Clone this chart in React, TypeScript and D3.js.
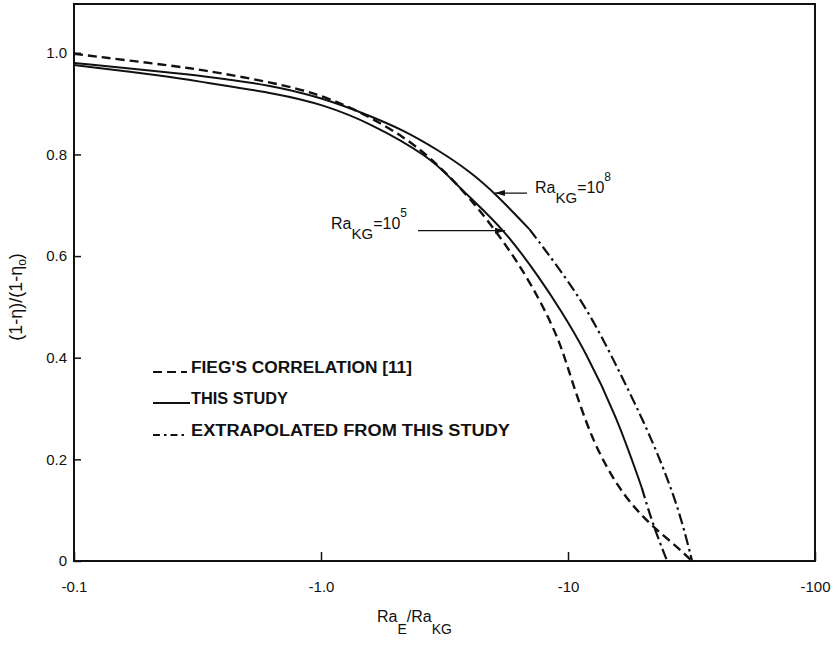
import React, { useEffect, useRef } from 'react';
import * as d3 from 'd3';

// |Ra_E / Ra_KG| values (axis shows them as negatives) and normalised efficiency
const fiegX = [0.1, 0.245, 0.324, 0.62, 1.02, 1.58, 2.15, 2.76, 4.0, 5.98, 7.7, 9.3, 10.2, 12.6, 16.2, 19.0, 22.1, 26.6, 31.8];
const fiegY = [0.998, 0.975, 0.967, 0.943, 0.917, 0.874, 0.835, 0.795, 0.717, 0.605, 0.514, 0.43, 0.365, 0.232, 0.14, 0.1, 0.067, 0.035, 0];

const ra5X = [0.1, 0.245, 0.324, 0.68, 1.02, 1.58, 2.76, 3.42, 4.0, 5.56, 7.7, 9.3, 11.7, 15.8, 19.9];
const ra5Y = [0.976, 0.953, 0.943, 0.919, 0.898, 0.862, 0.795, 0.748, 0.716, 0.65, 0.556, 0.495, 0.415, 0.283, 0.144];
const ra5ExtX = [19.9, 22.1, 25.2];
const ra5ExtY = [0.144, 0.07, 0];

const ra8X = [0.1, 0.245, 0.324, 0.62, 1.02, 1.58, 2.15, 2.95, 4.0, 5.06, 7.0];
const ra8Y = [0.98, 0.961, 0.955, 0.937, 0.911, 0.876, 0.848, 0.81, 0.767, 0.724, 0.652];
const ra8ExtX = [7.0, 11.5, 15.8, 20.1, 24.3, 28.4, 31.8];
const ra8ExtY = [0.652, 0.514, 0.382, 0.278, 0.185, 0.094, 0];

const xTicks = [0.1, 1, 10, 100];
const xTickLabels = ['-0.1', '-1.0', '-10', '-100'];
const yTicks = [0, 0.2, 0.4, 0.6, 0.8, 1.0];
const yTickLabels = ['0', '0.2', '0.4', '0.6', '0.8', '1.0'];

const legendLabels = ["FIEG'S CORRELATION [11]", 'THIS STUDY', 'EXTRAPOLATED FROM THIS STUDY'];

const DASH = '9,5';
const DASHDOT = '11,4,2.5,4';

const App = () => {
  const ref = useRef<SVGSVGElement | null>(null);

  useEffect(() => {
    const svg = d3.select(ref.current);
    svg.selectAll('*').remove();

    const left = 74;
    const right = 815;
    const top = 4;
    const bottom = 561;
    const font = '"Liberation Sans", Arial, sans-serif';

    const x = d3.scaleLog().domain([0.1, 100]).range([left, right]);
    const y = d3.scaleLinear().domain([0, 1.096]).range([bottom, top]);

    const line = d3
      .line<[number, number]>()
      .x((d) => x(d[0]))
      .y((d) => y(d[1]))
      .curve(d3.curveBasis);

    const zip = (xs: number[], ys: number[]) => xs.map((v, i) => [v, ys[i]] as [number, number]);

    // frame
    svg
      .append('rect')
      .attr('x', left)
      .attr('y', top)
      .attr('width', right - left)
      .attr('height', bottom - top)
      .attr('fill', 'none')
      .attr('stroke', '#111')
      .attr('stroke-width', 2);

    // axes (ticks inward)
    const xAxis = svg
      .append('g')
      .attr('transform', `translate(0,${bottom})`)
      .call(
        d3
          .axisBottom(x)
          .tickValues(xTicks)
          .tickSize(-9)
          .tickPadding(20)
          .tickFormat((d, i) => xTickLabels[i])
      );
    xAxis.select('.domain').remove();
    xAxis.selectAll('line').attr('stroke', '#111').attr('stroke-width', 1.5);
    xAxis
      .selectAll('text')
      .attr('fill', '#111')
      .style('font-family', font)
      .style('font-size', '15px');

    const yAxis = svg
      .append('g')
      .attr('transform', `translate(${left},0)`)
      .call(
        d3
          .axisLeft(y)
          .tickValues(yTicks)
          .tickSize(-7)
          .tickPadding(7)
          .tickFormat((d, i) => yTickLabels[i])
      );
    yAxis.select('.domain').remove();
    yAxis.selectAll('line').attr('stroke', '#111').attr('stroke-width', 1.5);
    yAxis
      .selectAll('text')
      .attr('fill', '#111')
      .style('font-family', font)
      .style('font-size', '15px');

    // curves
    const curves = [
      { data: zip(fiegX, fiegY), dash: DASH, w: 2.4 },
      { data: zip(ra5X, ra5Y), dash: null, w: 2 },
      { data: zip(ra5ExtX, ra5ExtY), dash: DASHDOT, w: 2.2 },
      { data: zip(ra8X, ra8Y), dash: null, w: 2 },
      { data: zip(ra8ExtX, ra8ExtY), dash: DASHDOT, w: 2.2 },
    ];
    curves.forEach((c) => {
      svg
        .append('path')
        .attr('d', line(c.data))
        .attr('fill', 'none')
        .attr('stroke', '#111')
        .attr('stroke-width', c.w)
        .attr('stroke-dasharray', c.dash);
    });

    // legend
    const legend = svg.append('g');
    const legendDash = [DASH, null, '7,4,2.5,4'];
    const legendY = [373, 404, 436];
    const legendW = [221, 97, 319];
    legendLabels.forEach((label, i) => {
      legend
        .append('line')
        .attr('x1', 153)
        .attr('x2', i === 1 ? 190 : 187)
        .attr('y1', legendY[i] - 1)
        .attr('y2', legendY[i] - 1)
        .attr('stroke', '#111')
        .attr('stroke-width', 2)
        .attr('stroke-dasharray', legendDash[i]);
      legend
        .append('text')
        .attr('x', 191)
        .attr('y', legendY[i])
        .attr('textLength', legendW[i])
        .attr('lengthAdjust', 'spacingAndGlyphs')
        .attr('fill', '#111')
        .style('font-family', font)
        .style('font-weight', 'bold')
        .style('font-size', '16px')
        .text(label);
    });

    // Ra_KG annotations with leaders
    const annotate = (
      tipX: number,
      tipY: number,
      lineEnd: number,
      tx: number,
      ty: number,
      exp: string
    ) => {
      const px = x(tipX);
      const py = y(tipY);
      svg
        .append('line')
        .attr('x1', lineEnd)
        .attr('x2', px)
        .attr('y1', py)
        .attr('y2', py)
        .attr('stroke', '#111')
        .attr('stroke-width', 1.3);
      const dir = lineEnd > px ? 1 : -1;
      svg
        .append('path')
        .attr('d', `M${px},${py}L${px + dir * 10},${py - 3}L${px + dir * 10},${py + 3}Z`)
        .attr('fill', '#111');
      const t = svg
        .append('text')
        .attr('x', tx)
        .attr('y', ty)
        .attr('fill', '#111')
        .style('font-family', font)
        .style('font-size', '16px');
      t.append('tspan').text('Ra');
      t.append('tspan').attr('dy', 10).style('font-size', '15px').text('KG');
      t.append('tspan').attr('dy', -10).text('=10');
      t.append('tspan').attr('dy', -12).style('font-size', '12px').text(exp);
    };
    annotate(5.06, 0.724, 527, 535, 193, '8');
    annotate(5.56, 0.65, 418, 331, 229, '5');

    // y axis title
    const yt = svg
      .append('text')
      .attr('transform', 'translate(22,297) rotate(-90)')
      .attr('text-anchor', 'middle')
      .attr('fill', '#111')
      .style('font-family', font)
      .style('font-size', '18px');
    yt.append('tspan').text('(1-η)/(1-η');
    yt.append('tspan').attr('dy', 4).style('font-size', '12px').text('o');
    yt.append('tspan').attr('dy', -4).text(')');

    // x axis title
    const xt = svg
      .append('text')
      .attr('x', 377)
      .attr('y', 622)
      .attr('fill', '#111')
      .style('font-family', font)
      .style('font-size', '16px');
    xt.append('tspan').text('Ra');
    xt.append('tspan').attr('dy', 12).style('font-size', '14px').text('E');
    xt.append('tspan').attr('dy', -12).text('/Ra');
    xt.append('tspan').attr('dy', 12).style('font-size', '14px').text('KG');
  }, []);

  return (
    <svg
      ref={ref}
      width={838}
      height={645}
      style={{ position: 'absolute', left: 0, top: 0, background: '#fff' }}
    />
  );
};

export default App;
